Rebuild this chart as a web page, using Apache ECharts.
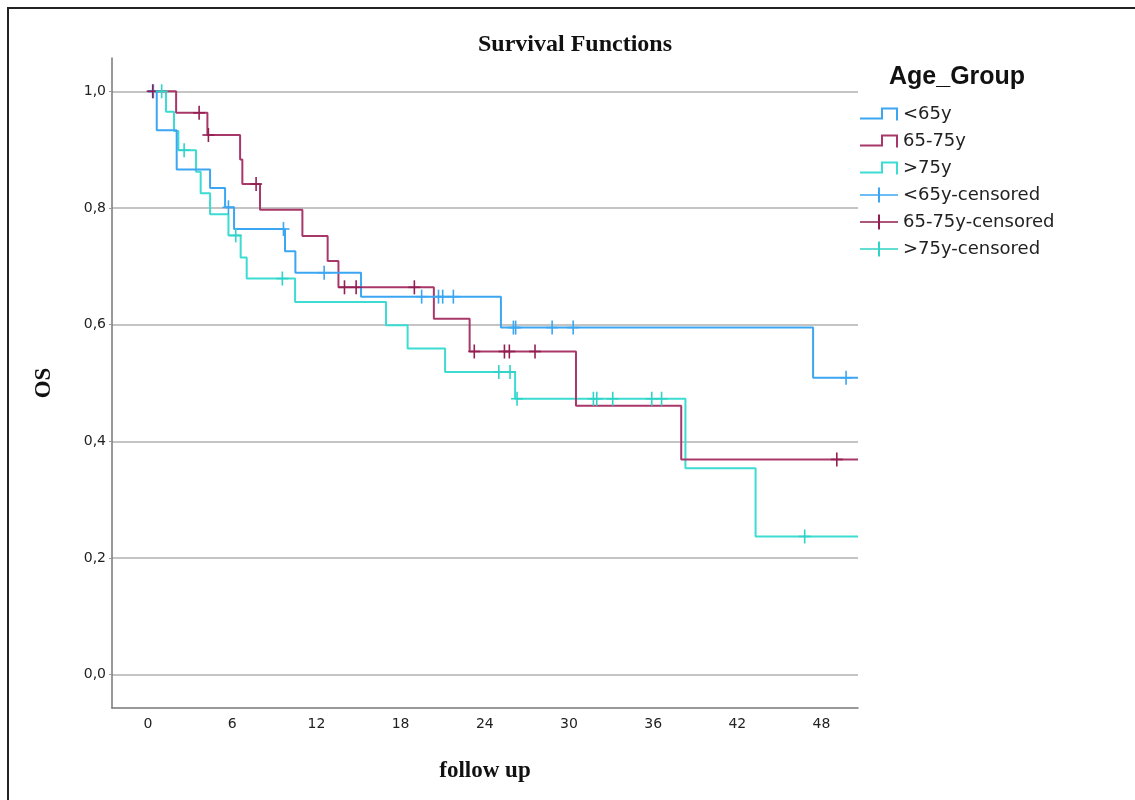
<!DOCTYPE html>
<html>
<head>
<meta charset="utf-8">
<script src="https://cdn.jsdelivr.net/npm/echarts@6/dist/echarts.min.js"></script>
<style>
  html, body { margin: 0; padding: 0; background: #fff; }
  #chart { width: 1135px; height: 800px; }
</style>
</head>
<body>
<div id="chart"></div>
<script>
// Kaplan–Meier overall survival by age group, follow up in months.
const groups = ['<65y', '65-75y', '>75y'];
const groupColors = ['#3ca6f2', '#a8386a', '#3ddcd3'];
const censorColors = ['#3ca6f2', '#931f52', '#2fd3c8'];

// Event times and the survival estimate right after each event.
const eventTimesUnder65 = [0.62, 2.04, 4.42, 5.49, 6.13, 9.76, 10.5, 15.18, 25.15, 47.4];
const survivalUnder65 = [0.933, 0.866, 0.834, 0.801, 0.764, 0.726, 0.689, 0.648, 0.595, 0.509];
const censorTimesUnder65 = [0.38, 5.73, 9.65, 12.55, 19.5, 20.7, 21.0, 21.76, 26.04, 26.2, 28.8, 30.3, 49.75];

const eventTimes65to75 = [2.0, 4.23, 6.56, 6.72, 7.98, 11.0, 12.8, 13.57, 20.37, 22.92, 30.5, 38.0];
const survival65to75 = [0.963, 0.925, 0.883, 0.841, 0.797, 0.752, 0.709, 0.664, 0.610, 0.554, 0.461, 0.369];
const censorTimes65to75 = [0.33, 3.64, 4.3, 7.7, 14.0, 14.83, 18.98, 23.25, 25.4, 25.75, 27.58, 49.09];

const eventTimesOver75 = [1.28, 1.85, 2.16, 3.42, 3.75, 4.42, 5.73, 6.6, 7.03, 10.48, 16.96, 18.5, 21.17, 26.16, 38.3, 43.3];
const survivalOver75 = [0.965, 0.932, 0.899, 0.862, 0.825, 0.789, 0.753, 0.715, 0.679, 0.639, 0.599, 0.559, 0.519, 0.473, 0.354, 0.237];
const censorTimesOver75 = [0.97, 2.57, 6.25, 9.57, 25.0, 25.8, 26.3, 31.74, 31.98, 33.12, 35.9, 36.6, 46.8];

// Axis ticks and extents.
const xTicks = [0, 6, 12, 18, 24, 30, 36, 42, 48];
const yTicks = [0, 0.2, 0.4, 0.6, 0.8, 1.0];
const xRange = [-2.57, 50.6];
const yRange = [-0.057, 1.057];

const eventTimes = [eventTimesUnder65, eventTimes65to75, eventTimesOver75];
const survival = [survivalUnder65, survival65to75, survivalOver75];
const censorTimes = [censorTimesUnder65, censorTimes65to75, censorTimesOver75];

// Build the step path of a survival curve: flat until each event, then a drop.
function kmPath(times, surv, tEnd) {
  const pts = [[0, 1]];
  let s = 1;
  times.forEach((t, i) => {
    pts.push([t, s]);
    s = surv[i];
    pts.push([t, s]);
  });
  pts.push([tEnd, s]);
  return pts;
}

function survivalAt(times, surv, t) {
  let s = 1;
  times.forEach((et, i) => { if (et <= t) s = surv[i]; });
  return s;
}

// Censored observations are drawn as "+" marks sitting on the curve.
function renderCensor(params, api) {
  const p = api.coord([api.value(0), api.value(1)]);
  const c = api.visual('color');
  return {
    type: 'group',
    children: [
      { type: 'line', shape: { x1: p[0] - 6, y1: p[1], x2: p[0] + 6, y2: p[1] }, style: { stroke: c, lineWidth: 1.6 } },
      { type: 'line', shape: { x1: p[0], y1: p[1] - 7, x2: p[0], y2: p[1] + 7 }, style: { stroke: c, lineWidth: 1.6 } }
    ]
  };
}

const stepIcon = 'path://M0,10H21V0H38V13H36V2H23V12H0Z';
const plusIcon = 'path://M0,6.7H18V0H20V6.7H38V8.3H20V15H18V8.3H0Z';

const series = [];
groups.forEach((g, i) => {
  series.push({
    name: g,
    type: 'line',
    data: kmPath(eventTimes[i], survival[i], xRange[1]),
    showSymbol: false,
    symbol: 'none',
    color: groupColors[i],
    lineStyle: { width: 2, color: groupColors[i] },
    itemStyle: { color: groupColors[i] },
    z: 3 - i,
    animation: false
  });
});
groups.forEach((g, i) => {
  series.push({
    name: g + '-censored',
    type: 'custom',
    renderItem: renderCensor,
    encode: { x: 0, y: 1 },
    data: censorTimes[i].map(t => [t, survivalAt(eventTimes[i], survival[i], t)]),
    itemStyle: { color: censorColors[i] },
    z: 5,
    animation: false
  });
});

const fmtComma = v => v.toFixed(1).replace('.', ',');

const chart = echarts.init(document.getElementById('chart'), null, { renderer: 'canvas' });
chart.setOption({
  backgroundColor: '#ffffff',
  animation: false,
  title: [
    {
      text: 'Survival Functions',
      left: 473, top: 28,
      textStyle: { fontFamily: 'Liberation Serif', fontWeight: 'bold', fontSize: 24, color: '#111' }
    },
    {
      text: 'Age_Group',
      left: 884, top: 60,
      textStyle: { fontFamily: 'Liberation Sans', fontWeight: 'bold', fontSize: 25, color: '#111' }
    }
  ],
  legend: {
    orient: 'vertical',
    left: 855, top: 100,
    itemWidth: 38, itemHeight: 15, itemGap: 9,
    selectedMode: false,
    itemStyle: { borderWidth: 0 },
    textStyle: { fontFamily: 'DejaVu Sans', fontSize: 18, color: '#222' },
    data: [
      { name: groups[0], icon: stepIcon },
      { name: groups[1], icon: stepIcon },
      { name: groups[2], icon: stepIcon },
      { name: groups[0] + '-censored', icon: plusIcon },
      { name: groups[1] + '-censored', icon: plusIcon },
      { name: groups[2] + '-censored', icon: plusIcon }
    ]
  },
  grid: { left: 112, right: 277, top: 58, bottom: 92, outerBoundsMode: 'none', containLabel: false },
  xAxis: {
    type: 'value',
    min: xRange[0], max: xRange[1],
    name: 'follow up',
    nameLocation: 'middle',
    nameGap: 52,
    nameTextStyle: { fontFamily: 'Liberation Serif', fontWeight: 'bold', fontSize: 23, color: '#111' },
    axisLine: { show: true, onZero: false, lineStyle: { color: '#777', width: 1.5 } },
    axisTick: { show: false, customValues: xTicks },
    axisLabel: {
      customValues: xTicks,
      margin: 9,
      fontFamily: 'DejaVu Sans', fontSize: 14, color: '#222',
      formatter: v => String(v)
    },
    splitLine: { show: false }
  },
  yAxis: {
    type: 'value',
    min: yRange[0], max: yRange[1],
    name: 'OS',
    nameLocation: 'middle',
    nameGap: 56,
    nameRotate: 90,
    nameTextStyle: { fontFamily: 'Liberation Serif', fontWeight: 'bold', fontSize: 23, color: '#111' },
    axisLine: { show: true, onZero: false, lineStyle: { color: '#777', width: 1.5 } },
    axisTick: { show: true, length: 3, customValues: yTicks, lineStyle: { color: '#999' } },
    axisLabel: {
      customValues: yTicks,
      margin: 6,
      fontFamily: 'DejaVu Sans', fontSize: 14, color: '#222',
      formatter: fmtComma
    },
    splitLine: { show: true, lineStyle: { color: '#c4c4c4', width: 2 } }
  },
  graphic: [
    {
      type: 'rect',
      shape: { x: 8, y: 8, width: 1200, height: 900 },
      style: { fill: null, stroke: '#222', lineWidth: 2 },
      silent: true,
      z: 100
    }
  ],
  series: series
});
</script>
</body>
</html>
